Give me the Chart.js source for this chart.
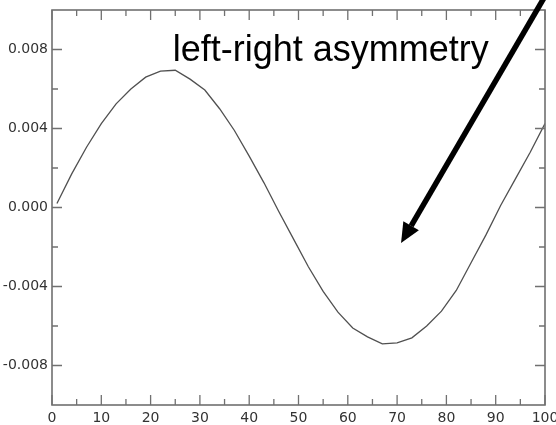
<!DOCTYPE html>
<html>
<head>
<meta charset="utf-8">
<script src="https://cdn.jsdelivr.net/npm/chart.js@4.4.1/dist/chart.umd.min.js"></script>
<style>
  html, body { margin: 0; padding: 0; background: #fff; }
  #wrap { width: 556px; height: 425px; }
</style>
</head>
<body>
<div id="wrap"><canvas id="myChart" width="556" height="425"></canvas></div>
<script>
// curve (y in units of 1)
const xValues = [1, 4, 7, 10, 13, 16, 19, 22, 25, 28, 31, 34, 37, 40, 43, 46, 49,
                 52, 55, 58, 61, 64, 67, 70, 73, 76, 79, 82, 85, 88, 91, 94, 97, 100];
const yValues = [0.0002, 0.0017, 0.00305, 0.00425, 0.00525, 0.0060, 0.0066, 0.0069, 0.00695,
                 0.0065, 0.00595, 0.0050, 0.0039, 0.0026, 0.00125, -0.0002, -0.0016,
                 -0.0030, -0.00425, -0.0053, -0.0061, -0.00655, -0.0069, -0.00685, -0.0066,
                 -0.0060, -0.00525, -0.0042, -0.0028, -0.0014, 0.0001, 0.00145, 0.0028, 0.00425];

const xMajorTicks = [0, 10, 20, 30, 40, 50, 60, 70, 80, 90, 100];
const xMinorTicks = [5, 15, 25, 35, 45, 55, 65, 75, 85, 95];
const yMajorTicks = [-0.008, -0.004, 0, 0.004, 0.008];
const yMinorTicks = [-0.006, -0.002, 0.002, 0.006];

const noteText = "left-right asymmetry";
const notePos = [24.5, 0.0074];
const arrowFrom = [100.7, 0.011];
const arrowTo = [70.8, -0.0018];

const frameAndNotes = {
    id: "frameAndNotes",
    afterDraw(chart) {
        const ctx = chart.ctx;
        const a = chart.chartArea;
        const xs = chart.scales.x;
        const ys = chart.scales.y;

        ctx.save();
        ctx.strokeStyle = "#707070";
        ctx.lineWidth = 1.6;
        ctx.strokeRect(a.left, a.top, a.right - a.left, a.bottom - a.top);

        ctx.lineWidth = 1.3;
        ctx.beginPath();
        const tickX = (v, len) => {
            const px = xs.getPixelForValue(v);
            ctx.moveTo(px, a.bottom); ctx.lineTo(px, a.bottom - len);
            ctx.moveTo(px, a.top); ctx.lineTo(px, a.top + len);
        };
        const tickY = (v, len) => {
            const py = ys.getPixelForValue(v);
            ctx.moveTo(a.left, py); ctx.lineTo(a.left + len, py);
            ctx.moveTo(a.right, py); ctx.lineTo(a.right - len, py);
        };
        xMajorTicks.forEach(v => tickX(v, 10));
        xMinorTicks.forEach(v => tickX(v, 6));
        yMajorTicks.forEach(v => tickY(v, 10));
        yMinorTicks.forEach(v => tickY(v, 6));
        ctx.stroke();

        // annotation text
        ctx.fillStyle = "#000";
        ctx.font = '36px "Liberation Sans", Arial, sans-serif';
        ctx.textAlign = "left";
        ctx.textBaseline = "alphabetic";
        ctx.fillText(noteText, xs.getPixelForValue(notePos[0]), ys.getPixelForValue(notePos[1]));

        // arrow
        const x0 = xs.getPixelForValue(arrowFrom[0]), y0 = ys.getPixelForValue(arrowFrom[1]);
        const x1 = xs.getPixelForValue(arrowTo[0]), y1 = ys.getPixelForValue(arrowTo[1]);
        const ang = Math.atan2(y1 - y0, x1 - x0);
        const headLen = 20, headW = 9;
        const bx = x1 - headLen * Math.cos(ang), by = y1 - headLen * Math.sin(ang);
        ctx.strokeStyle = "#000";
        ctx.lineWidth = 5.5;
        ctx.beginPath();
        ctx.moveTo(x0, y0);
        ctx.lineTo(bx, by);
        ctx.stroke();
        ctx.beginPath();
        ctx.moveTo(x1, y1);
        ctx.lineTo(bx + headW * Math.sin(ang), by - headW * Math.cos(ang));
        ctx.lineTo(bx - headW * Math.sin(ang), by + headW * Math.cos(ang));
        ctx.closePath();
        ctx.fill();
        ctx.restore();
    }
};

const ctx = document.getElementById("myChart").getContext("2d");

new Chart(ctx, {
    type: "line",
    data: {
        datasets: [{
            data: xValues.map((x, i) => ({ x: x, y: yValues[i] })),
            borderColor: "#505050",
            borderWidth: 1.3,
            pointRadius: 0,
            tension: 0,
            fill: false
        }]
    },
    options: {
        responsive: false,
        animation: false,
        layout: { padding: { top: 10, right: 11, left: 0, bottom: 0 } },
        plugins: {
            legend: { display: false },
            tooltip: { enabled: false }
        },
        scales: {
            x: {
                type: "linear",
                min: 0,
                max: 100,
                grid: { display: false, drawTicks: false },
                border: { display: false },
                afterBuildTicks: s => { s.ticks = xMajorTicks.map(v => ({ value: v })); },
                afterFit: s => { s.height = 20; s.paddingLeft = 0; s.paddingRight = 0; },
                ticks: {
                    padding: 5,
                    maxRotation: 0,
                    autoSkip: false,
                    color: "#333",
                    font: { family: "DejaVu Sans", size: 14 },
                    callback: v => String(Math.round(v))
                }
            },
            y: {
                type: "linear",
                min: -0.01,
                max: 0.01,
                grid: { display: false, drawTicks: false },
                border: { display: false },
                afterBuildTicks: s => { s.ticks = yMajorTicks.map(v => ({ value: v })); },
                afterFit: s => { s.width = 52; s.paddingTop = 0; s.paddingBottom = 0; },
                ticks: {
                    padding: 4,
                    autoSkip: false,
                    color: "#333",
                    font: { family: "DejaVu Sans", size: 14 },
                    callback: v => (Math.round(v * 1000) / 1000 + 0).toFixed(3)
                }
            }
        }
    },
    plugins: [frameAndNotes]
});
</script>
</body>
</html>
